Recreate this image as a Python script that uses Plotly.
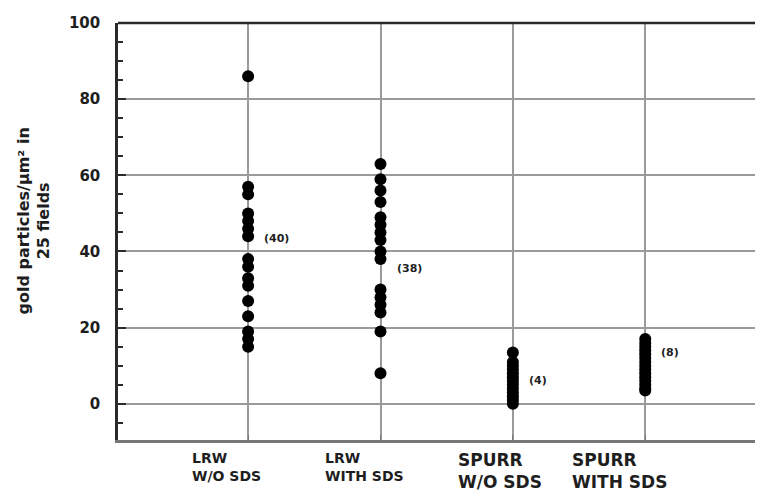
import plotly.graph_objects as go

# ---- data ----
categories = ["LRW\nW/O SDS", "LRW\nWITH SDS", "SPURR\nW/O SDS", "SPURR\nWITH SDS"]
tick_labels = ["LRW<br>W/O SDS", "LRW<br>WITH SDS", "SPURR<br>W/O SDS", "SPURR<br>WITH SDS"]
y_title = "gold particles/µm² in<br>25 fields"
lrw_without_sds = [86, 57, 55, 50, 48, 46, 44, 38, 36, 33, 31, 27, 23, 19, 17, 15]
lrw_with_sds = [63, 59, 56, 53, 49, 47, 45, 43, 40, 38, 30, 28, 26, 24, 19, 8]
spurr_without_sds = [13.5, 11, 10, 9, 8, 7, 6, 5, 4, 3, 2, 1, 0]
spurr_with_sds = [17, 16, 15, 14, 13, 12, 11, 10, 9, 8, 7, 6, 5, 4, 3.5]
count_labels = ["(40)", "(38)", "(4)", "(8)"]
count_label_y = [43.5, 35.5, 6, 13.5]
y_ticks = [0, 20, 40, 60, 80, 100]

series = [lrw_without_sds, lrw_with_sds, spurr_without_sds, spurr_with_sds]

# ---- style ----
label_xshift = [-58, -58, -57, -75]
label_size = [14, 14, 17, 17]
grid_col = "#9a9a9a"
dark = "#1e1e1e"
font_family = "DejaVu Sans"

fig = go.Figure()
xs, ys = [], []
for i, vals in enumerate(series):
    xs += [i] * len(vals)
    ys += vals
fig.add_trace(go.Scatter(
    x=xs, y=ys, mode="markers",
    marker=dict(color="black", size=12, line=dict(width=0)),
    showlegend=False, hoverinfo="y",
))

for i, (lab, yv) in enumerate(zip(count_labels, count_label_y)):
    fig.add_annotation(x=i, y=yv, xref="x", yref="y", text=lab, showarrow=False,
                       xanchor="left", xshift=14,
                       font=dict(family=font_family, size=11, color=dark, weight="bold"))

for i, lab in enumerate(tick_labels):
    fig.add_annotation(x=i, y=0, xref="x", yref="paper", text=lab, showarrow=False,
                       xanchor="left", yanchor="top", align="left",
                       xshift=label_xshift[i], yshift=-8,
                       font=dict(family=font_family, size=label_size[i], color=dark, weight="bold"))

# y axis title as rotated annotation
fig.add_annotation(x=0, y=0.5, xref="paper", yref="paper", text=y_title, showarrow=False,
                   textangle=-90, xanchor="center", yanchor="middle",
                   xshift=-85, yshift=10,
                   font=dict(family=font_family, size=16, color=dark, weight="bold"))

# top frame line
fig.add_shape(type="line", xref="paper", yref="paper", x0=0, x1=1, y0=1, y1=1,
              line=dict(color="#2a2a2a", width=2.5))

fig.update_layout(
    width=763, height=504,
    margin=dict(l=110, r=0, t=15, b=72, autoexpand=False),
    paper_bgcolor="white", plot_bgcolor="white",
    font=dict(family=font_family, color=dark),
)
fig.update_xaxes(
    range=[-0.983, 3.95], tickvals=[0, 1, 2, 3], showticklabels=False,
    showgrid=True, gridcolor=grid_col, gridwidth=1.6, automargin=False,
    showline=True, linecolor="#777777", linewidth=2.5,
    ticks="inside", ticklen=5, tickcolor="#777777", zeroline=False,
)
fig.update_yaxes(
    range=[-9.5, 100], tickvals=y_ticks, ticktext=[str(t) for t in y_ticks],
    showgrid=True, gridcolor=grid_col, gridwidth=1.6, zeroline=False, automargin=False,
    showline=True, linecolor="#2a2a2a", linewidth=2.5,
    ticks="inside", ticklen=8, tickcolor="#2a2a2a", tickwidth=1.5,
    ticklabelstandoff=12,
    minor=dict(dtick=5, tick0=0, ticks="inside", ticklen=5, tickcolor="#2a2a2a", showgrid=False),
    tickfont=dict(family=font_family, size=15, color=dark, weight="bold"),
)

fig.write_html("out.html")
